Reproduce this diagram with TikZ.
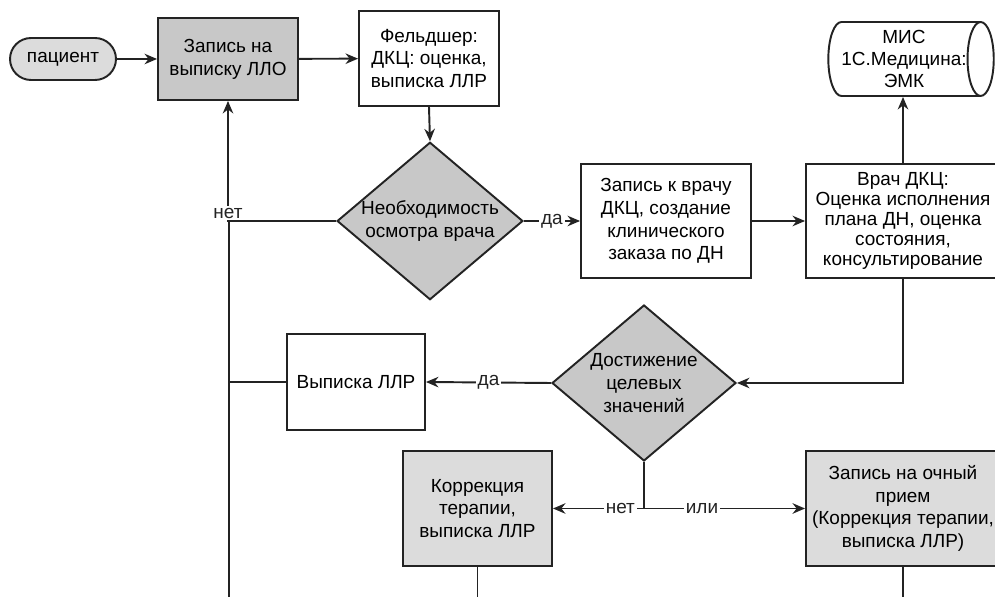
\documentclass[tikz,border=0pt]{standalone}
\usepackage{fontspec}
\setmainfont{Liberation Sans}
\usepackage{tikz}
\usetikzlibrary{arrows.meta,positioning,calc,shapes.geometric}
\usepackage{xcolor}
\definecolor{ink}{RGB}{35,35,35}
\definecolor{midgray}{RGB}{200,200,200}
\definecolor{lightgray}{RGB}{220,220,220}
\newcommand{\flowfont}{\fontsize{10.8}{13}\selectfont}
\tikzset{
  proc/.style={draw=ink,line width=1.1pt,fill=white,align=center,
    font=\flowfont,inner sep=2pt},
  procdark/.style={proc,fill=midgray},
  proclight/.style={proc,fill=lightgray},
  term/.style={proc,fill=lightgray,rounded corners=0.42cm},
  decide/.style={diamond,draw=ink,line width=1.1pt,fill=midgray,aspect=1.18,
    inner sep=0pt,align=center,font=\flowfont,
    minimum width=3.68cm,minimum height=3.12cm},
  store/.style={cylinder,draw=ink,line width=1.1pt,fill=white,aspect=0.46,
    align=center,font=\fontsize{10.8}{12.4}\selectfont,inner sep=0pt},
  arr/.style={-{Stealth[length=2.5mm,width=2.1mm]},line width=1.1pt,ink},
  ln/.style={line width=1.1pt,ink},
  lbl/.style={font=\flowfont,fill=white,inner sep=1pt,text=ink},
}

\begin{document}
\begin{tikzpicture}[x=0.02cm,y=-0.02cm]
  \useasboundingbox (0,0) rectangle (995,597);
  \clip (0,0) rectangle (995,597);

  % top row
  \node[term,minimum width=2.12cm,minimum height=0.84cm] (patient) at (63,59) {пациент};
  \node[procdark,minimum width=2.8cm,minimum height=1.64cm] (llo) at (228,59)
    {Запись на\\выписку ЛЛО};
  \node[proc,minimum width=2.8cm,minimum height=1.9cm] (feld) at (429,58.5)
    {Фельдшер:\\ДКЦ: оценка,\\выписка ЛЛР};
  % cylinder: width/height are taken along its axis
  \node[store,minimum height=3.12cm,minimum width=1.48cm] (mis) at (904,59)
    {МИС\\1С.Медицина:\\ЭМК};

  % middle row
  \node[decide] (needdoc) at (430,221) {Необходимость\\осмотра врача};
  \node[proc,minimum width=3.4cm,minimum height=2.28cm] (booking) at (666,221)
    {Запись к врачу\\ДКЦ, создание\\клинического\\заказа по ДН};
  \node[proc,minimum width=3.88cm,minimum height=2.28cm,
    font=\fontsize{10.8}{11.4}\selectfont] (doctor) at (903,221)
    {Врач ДКЦ:\\Оценка исполнения\\плана ДН, оценка\\состояния,\\консультирование};

  % lower rows
  \node[decide] (target) at (644,383) {Достижение\\целевых\\значений};
  \node[proc,minimum width=2.76cm,minimum height=1.92cm] (rx) at (356,382)
    {Выписка ЛЛР};
  \node[proclight,minimum width=2.98cm,minimum height=2.3cm] (correct) at (477.5,508.5)
    {Коррекция\\терапии,\\выписка ЛЛР};
  \node[proclight,minimum width=3.88cm,minimum height=2.3cm] (visit) at (903,508.5)
    {Запись на очный\\прием\\(Коррекция терапии,\\выписка ЛЛР)};

  \coordinate (split) at (target.south |- correct.east);
  \coordinate (trunk) at (229,615);

  % connectors
  \draw[arr] (patient) -- (llo);
  \draw[arr] (llo) -- (feld);
  \draw[arr] (feld.south) -- (needdoc.north);
  \draw[arr] (needdoc.west) -| (llo.south) node[lbl,pos=0.5,above=0pt] {нет};
  \draw[ln] (trunk) -- (trunk |- needdoc.west);
  \draw[arr] (needdoc.east) -- (booking.west) node[lbl,midway] {да};
  \draw[arr] (booking) -- (doctor);
  \draw[arr] (doctor.north) -- (doctor.north |- mis.south);
  \draw[arr] (doctor.south) |- (target.east);
  \draw[arr] (target.west) -- (rx.east) node[lbl,midway] {да};
  \draw[ln] (rx.west) -- (rx.west -| trunk);
  \draw[ln] (target.south) -- (split);
  \draw[arr] (split) -- (correct.east) node[lbl,pos=0.26] {нет};
  \draw[arr] (split) -- (visit.west) node[lbl,pos=0.36] {или};
  \draw[ln] (correct.south) -- (correct.south |- trunk);
  \draw[ln] (visit.south) -- (visit.south |- trunk);
\end{tikzpicture}
\end{document}
